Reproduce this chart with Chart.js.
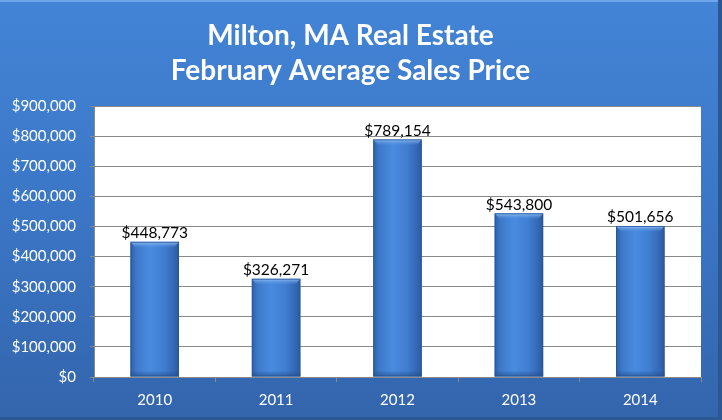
<!DOCTYPE html>
<html><head><meta charset="utf-8">
<script src="https://cdn.jsdelivr.net/npm/chart.js@4/dist/chart.umd.min.js"></script>
<style>html,body{margin:0;padding:0;background:#3b74c4;}#wrap{width:722px;height:420px;}</style>
</head><body><div id="wrap"><canvas id="c" width="722" height="420"></canvas></div>
<script>
const titleLines = ['Milton, MA Real Estate', 'February Average Sales Price'];
const years = ['2010', '2011', '2012', '2013', '2014'];
const avgPrice = [448773, 326271, 789154, 543800, 501656];
const yMin = 0, yMax = 900000, yStep = 100000;

const fmt = v => '$' + Math.round(v).toString().replace(/\B(?=(\d{3})+(?!\d))/g, ',');
const FONT = 'Lato, "Open Sans", sans-serif';

const bgPlugin = {
  id: 'bg',
  beforeDraw(chart) {
    const ctx = chart.ctx, w = chart.width, h = chart.height;
    ctx.save();
    const g = ctx.createLinearGradient(0, 0, 0, h);
    g.addColorStop(0, '#4384d6');
    g.addColorStop(0.5, '#3b76c6');
    g.addColorStop(1, '#3365ac');
    ctx.fillStyle = g;
    ctx.fillRect(0, 0, w, h);
    ctx.fillStyle = '#6fa6ea';
    ctx.fillRect(0, 0, w, 2);
    ctx.fillStyle = '#2b5793';
    ctx.fillRect(w - 4, 0, 4, h);
    ctx.fillRect(0, h - 3, w, 3);
    const a = chart.chartArea;
    ctx.fillStyle = '#ffffff';
    ctx.fillRect(a.left, a.top, a.right - a.left, a.bottom - a.top);
    ctx.restore();
  }
};

const bevelPlugin = {
  id: 'bevel',
  afterDatasetsDraw(chart) {
    const ctx = chart.ctx;
    const meta = chart.getDatasetMeta(0);
    ctx.save();
    meta.data.forEach(el => {
      const l = el.x - el.width / 2, r = el.x + el.width / 2, t = el.y, b = el.base;
      const gt = ctx.createLinearGradient(0, t, 0, t + 6);
      gt.addColorStop(0, 'rgba(150,195,245,0.95)');
      gt.addColorStop(1, 'rgba(90,150,230,0)');
      ctx.fillStyle = gt;
      ctx.beginPath();
      ctx.moveTo(l, t); ctx.lineTo(r, t); ctx.lineTo(r - 5, t + 6); ctx.lineTo(l + 5, t + 6); ctx.closePath();
      ctx.fill();
      const gb = ctx.createLinearGradient(0, b - 6, 0, b);
      gb.addColorStop(0, 'rgba(30,70,130,0)');
      gb.addColorStop(1, 'rgba(30,70,130,0.6)');
      ctx.fillStyle = gb;
      ctx.fillRect(l, b - 6, r - l, 6);
      ctx.strokeStyle = 'rgba(40,85,150,0.8)';
      ctx.lineWidth = 1;
      ctx.strokeRect(l + 0.5, t + 0.5, r - l - 1, b - t - 1);
    });
    ctx.restore();
  }
};

const labelPlugin = {
  id: 'vlabels',
  afterDatasetsDraw(chart) {
    const ctx = chart.ctx;
    const meta = chart.getDatasetMeta(0);
    ctx.save();
    ctx.font = '15.5px ' + FONT;
    ctx.fillStyle = '#000';
    ctx.textAlign = 'center';
    ctx.textBaseline = 'bottom';
    meta.data.forEach((el, i) => {
      ctx.fillText(fmt(avgPrice[i]), el.x, el.y - 1);
    });
    ctx.restore();
  }
};

function barFill(c) {
  const chart = c.chart, a = chart.chartArea;
  if (!a) return '#3f7bd0';
  const x = chart.scales.x.getPixelForValue(c.dataIndex);
  const w = (a.right - a.left) / years.length * 0.4;
  const g = chart.ctx.createLinearGradient(x - w / 2, 0, x + w / 2, 0);
  g.addColorStop(0, '#2d60a8');
  g.addColorStop(0.12, '#3d79c9');
  g.addColorStop(0.4, '#4a8be0');
  g.addColorStop(0.7, '#3f7dd0');
  g.addColorStop(0.9, '#3467b3');
  g.addColorStop(1, '#2a5a9e');
  return g;
}

new Chart(document.getElementById('c'), {
  type: 'bar',
  data: {
    labels: years,
    datasets: [{
      data: avgPrice,
      backgroundColor: barFill,
      borderWidth: 0,
      categoryPercentage: 1,
      barPercentage: 0.4
    }]
  },
  options: {
    responsive: false,
    animation: false,
    devicePixelRatio: 1,
    layout: { padding: { left: 0, right: 21, top: 8, bottom: 2 } },
    plugins: {
      legend: { display: false },
      tooltip: { enabled: false },
      title: {
        display: true,
        text: titleLines,
        color: '#ffffff',
        font: { family: FONT, size: 28, weight: 'bold', lineHeight: 1.25 },
        padding: { top: 10, bottom: 18 }
      }
    },
    scales: {
      x: {
        grid: { display: true, drawOnChartArea: false, drawTicks: true, tickLength: 5, color: '#8a8a8a', offset: true },
        border: { display: true, color: '#8a8a8a' },
        ticks: { color: '#ffffff', font: { family: FONT, size: 15 }, padding: 9 }
      },
      y: {
        min: yMin, max: yMax,
        afterFit: s => { s.width = 94; },
        ticks: { stepSize: yStep, color: '#ffffff', font: { family: FONT, size: 15 }, padding: 14, callback: v => fmt(v) },
        grid: { color: '#8a8a8a', tickLength: 4 },
        border: { display: true, color: '#8a8a8a' }
      }
    }
  },
  plugins: [bgPlugin, bevelPlugin, labelPlugin]
});
</script></body></html>
